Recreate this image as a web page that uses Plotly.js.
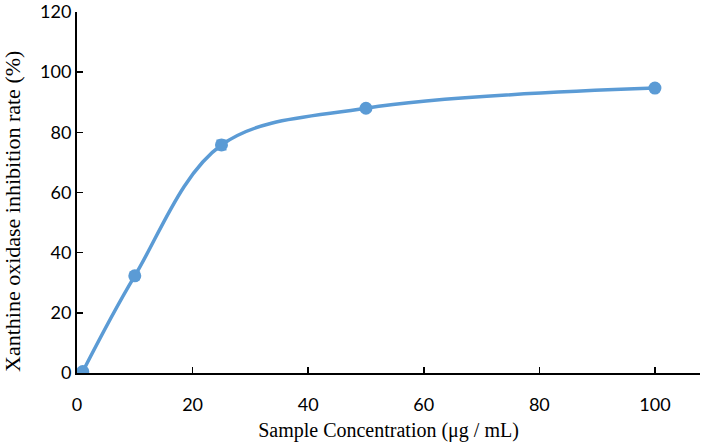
<!DOCTYPE html>
<html>
<head>
<meta charset="utf-8">
<script src="https://cdn.plot.ly/plotly-3.0.1.min.js"></script>
<style>html,body{margin:0;padding:0;background:#fff;}#chart{width:702px;height:445px;}</style>
</head>
<body>
<div id="chart"></div>
<script>
const concentrations = [1, 10, 25, 50, 100];
const inhibitionRate = [0.5, 32.3, 75.8, 88.0, 94.7];
const errorValues = [0.6, 1.2, 1.6, 0.8, 1.0];
const xTickValues = [0, 20, 40, 60, 80, 100];
const yTickValues = [0, 20, 40, 60, 80, 100, 120];
const xTitle = 'Sample Concentration (μg / mL)';
const yTitle = 'Xanthine oxidase inhibition rate (%)';

const trace = {
  x: concentrations,
  y: inhibitionRate,
  type: 'scatter',
  mode: 'lines+markers',
  line: {shape: 'spline', smoothing: 1, color: '#5B9BD5', width: 3.5},
  marker: {symbol: 'circle', size: 13, color: '#5B9BD5'},
  error_y: {type: 'data', array: errorValues, visible: true, color: '#5B9BD5', thickness: 1.5, width: 5},
  hoverinfo: 'skip'
};

const serif = '"Liberation Serif", "Times New Roman", serif';
const sans = 'Lato, "Open Sans", sans-serif';

const layout = {
  width: 702, height: 445,
  margin: {l: 77, r: 2, t: 12, b: 72},
  paper_bgcolor: '#fff', plot_bgcolor: '#fff',
  showlegend: false,
  xaxis: {
    range: [0, 107.8],
    tickvals: xTickValues,
    ticks: 'inside', ticklen: 6, tickwidth: 1.5, tickcolor: '#000',
    ticklabelstandoff: 14,
    showline: true, linecolor: '#000', linewidth: 2,
    showgrid: false, zeroline: false,
    tickfont: {family: sans, size: 18, color: '#000'},
    title: {text: xTitle, font: {family: serif, size: 20, color: '#000'}, standoff: 9}
  },
  yaxis: {
    range: [0, 120],
    tickvals: yTickValues,
    ticksuffix: '\u00a0\u00a0\u00a0',
    ticks: 'inside', ticklen: 6, tickwidth: 1.5, tickcolor: '#000',
    showline: true, linecolor: '#000', linewidth: 2,
    showgrid: false, zeroline: false,
    tickfont: {family: sans, size: 18, color: '#000'}
  },
  annotations: [{
    text: yTitle, textangle: -90, showarrow: false,
    xref: 'paper', yref: 'paper', x: 0, y: 0.446,
    xanchor: 'center', yanchor: 'middle', xshift: -64,
    font: {family: serif, size: 22, color: '#000'}
  }]
};

Plotly.newPlot('chart', [trace], layout, {staticPlot: true, displayModeBar: false});
</script>
</body>
</html>
